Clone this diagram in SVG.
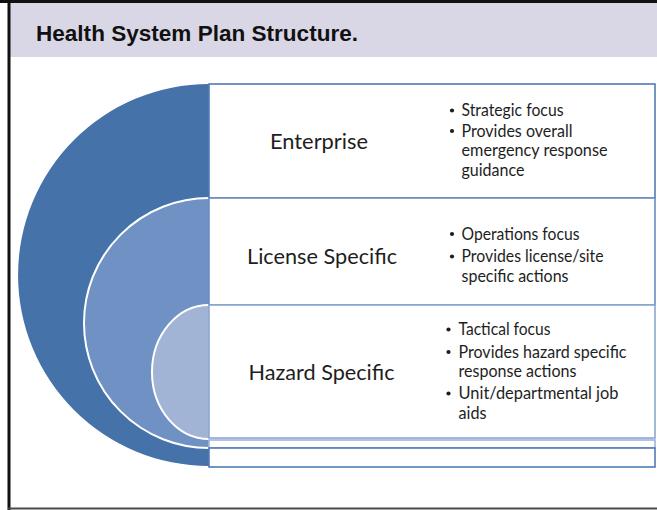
<svg xmlns="http://www.w3.org/2000/svg" width="657" height="510" viewBox="0 0 657 510">
  <style>
    .title { font-family: "Liberation Sans", Arial, sans-serif; font-weight: bold; font-size: 22px; fill: #111; }
    .label { font-family: Lato, "Open Sans", sans-serif; font-size: 21.5px; fill: #1e1e1e; }
    .item  { font-family: Lato, "Open Sans", sans-serif; font-size: 16.5px; fill: #1e1e1e; }
    .dot   { fill: #1e1e1e; }
    .arc   { fill: none; stroke: #ffffff; stroke-width: 2; }
    .box   { fill: #ffffff; stroke-width: 1.6; }
  </style>

  <!-- page background and frame -->
  <rect x="0" y="0" width="657" height="510" fill="#ffffff"/>
  <rect x="8" y="3" width="649" height="54" fill="#d9d7e6"/>
  <line x1="0" y1="1.5" x2="657" y2="1.5" stroke="#111" stroke-width="3"/>
  <line x1="9" y1="0" x2="9" y2="510" stroke="#111" stroke-width="3"/>
  <line x1="8" y1="508.5" x2="657" y2="508.5" stroke="#4a4a4a" stroke-width="2"/>

  <text class="title" x="36" y="40.5" textLength="322" lengthAdjust="spacingAndGlyphs">Health System Plan Structure.</text>

  <!-- nested half-discs -->
  <g id="rings">
    <path d="M209,84 A191,191 0 0 0 209,466 Z" fill="#4672aa"/>
    <path d="M209,198 A125,125 0 0 0 209,448 Z" fill="#7091c3"/>
    <path class="arc" d="M209,198 A125,125 0 0 0 209,448"/>
    <path d="M209,305 A57,67 0 0 0 209,439 Z" fill="#a2b4d6"/>
    <path class="arc" d="M209,305 A57,67 0 0 0 209,439"/>
  </g>

  <!-- level boxes -->
  <g id="enterprise">
    <rect class="box" x="209" y="84" width="446" height="114" stroke="#4f7bb6"/>
    <text class="label" x="270" y="149" textLength="98" lengthAdjust="spacingAndGlyphs">Enterprise</text>
    <circle class="dot" cx="452" cy="110.5" r="2.1"/>
    <text class="item" x="461.5" y="116" textLength="102" lengthAdjust="spacingAndGlyphs">Strategic focus</text>
    <circle class="dot" cx="452" cy="131" r="2.1"/>
    <text class="item" x="461.5" y="136.5" textLength="111" lengthAdjust="spacingAndGlyphs">Provides overall</text>
    <text class="item" x="461.5" y="156" textLength="146" lengthAdjust="spacingAndGlyphs">emergency response</text>
    <text class="item" x="461.5" y="176" textLength="63" lengthAdjust="spacingAndGlyphs">guidance</text>
  </g>

  <g id="license">
    <rect class="box" x="209" y="198" width="446" height="107" stroke="#6a8dc4"/>
    <text class="label" x="247" y="264" textLength="150" lengthAdjust="spacingAndGlyphs">License Specific</text>
    <circle class="dot" cx="452" cy="234" r="2.1"/>
    <text class="item" x="461.5" y="239.5" textLength="118" lengthAdjust="spacingAndGlyphs">Operations focus</text>
    <circle class="dot" cx="452" cy="256.5" r="2.1"/>
    <text class="item" x="461.5" y="262" textLength="142" lengthAdjust="spacingAndGlyphs">Provides license/site</text>
    <text class="item" x="461.5" y="281.5" textLength="107" lengthAdjust="spacingAndGlyphs">specific actions</text>
  </g>

  <g id="hazard">
    <rect class="box" x="209" y="305" width="446" height="133" stroke="#8aa6d3"/>
    <text class="label" x="248.5" y="380" textLength="146" lengthAdjust="spacingAndGlyphs">Hazard Specific</text>
    <circle class="dot" cx="448.5" cy="329.5" r="2.1"/>
    <text class="item" x="458.5" y="335" textLength="92" lengthAdjust="spacingAndGlyphs">Tactical focus</text>
    <circle class="dot" cx="448.5" cy="352" r="2.1"/>
    <text class="item" x="458.5" y="357.5" textLength="168" lengthAdjust="spacingAndGlyphs">Provides hazard specific</text>
    <text class="item" x="458.5" y="377" textLength="118" lengthAdjust="spacingAndGlyphs">response actions</text>
    <circle class="dot" cx="448.5" cy="393.5" r="2.1"/>
    <text class="item" x="458.5" y="399" textLength="160" lengthAdjust="spacingAndGlyphs">Unit/departmental job</text>
    <text class="item" x="458.5" y="419" textLength="28" lengthAdjust="spacingAndGlyphs">aids</text>
  </g>

  <!-- empty base bands -->
  <g id="base-bands">
    <rect class="box" x="209" y="440" width="446" height="8" stroke="#9fb5dc"/>
    <rect class="box" x="209" y="448" width="446" height="19" stroke="#4f7bb6"/>
  </g>
</svg>
